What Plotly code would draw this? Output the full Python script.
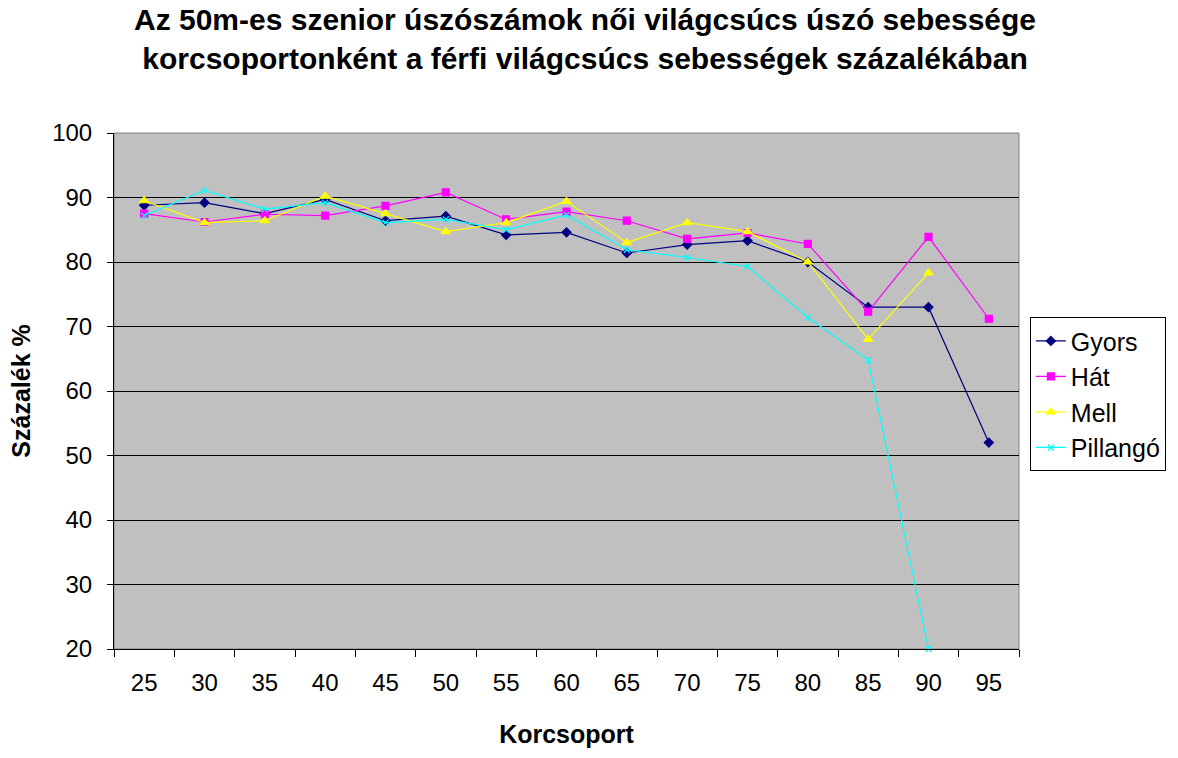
"""Women's 50m masters world-record speed as % of men's, by age group."""
import plotly.graph_objects as go

age_groups = ["25", "30", "35", "40", "45", "50", "55", "60", "65", "70", "75", "80", "85", "90", "95"]

gyors = [88.8, 89.2, 87.5, 89.7, 86.4, 87.1, 84.2, 84.6, 81.4, 82.7, 83.3, 80.0, 73.0, 73.0, 52.0]
hat = [87.5, 86.2, 87.4, 87.2, 88.7, 90.8, 86.6, 87.8, 86.4, 83.6, 84.5, 82.8, 72.3, 83.9, 71.2]
mell = [89.5, 86.1, 86.4, 90.2, 87.5, 84.7, 86.1, 89.4, 83.0, 86.1, 84.7, 80.0, 68.0, 78.3, None]
pillango = [87.2, 91.1, 88.2, 89.2, 86.1, 86.6, 85.0, 87.3, 81.9, 80.7, 79.3, 71.4, 64.8, 20.0, None]

FONT = "Arial, Liberation Sans, sans-serif"

series = [
    ("Gyors", gyors, "#000080", "diamond", 7),
    ("Hát", hat, "#FF00FF", "square", 7),
    ("Mell", mell, "#FFFF00", "triangle-up", 8),
    ("Pillangó", pillango, "#00FFFF", "x-thin", 6),
]

fig = go.Figure()
for i, (name, vals, color, symbol, size) in enumerate(series):
    fig.add_trace(go.Scatter(
        x=age_groups,
        y=vals,
        name=name,
        mode="lines+markers",
        line=dict(color=color, width=1.2),
        marker=dict(symbol=symbol, size=size, color=color,
                    line=dict(color=color, width=1.2)),
        legendgroup=str(i),
        cliponaxis=False,
    ))

fig.update_xaxes(
    type="category",
    tickson="boundaries",
    ticks="outside",
    ticklen=7,
    tickcolor="black",
    ticklabelstandoff=12,
    showline=True,
    linecolor="black",
    linewidth=1,
    showgrid=False,
    tickfont=dict(family=FONT, size=24, color="black"),
    title=dict(text="<b>Korcsoport</b>", font=dict(family=FONT, size=25, color="black"),
               standoff=30),
    range=[-0.5, 14.5],
)
fig.update_yaxes(
    range=[20, 100],
    dtick=10,
    ticks="outside",
    ticklen=6,
    tickcolor="black",
    ticklabelstandoff=10,
    showline=True,
    linecolor="black",
    linewidth=1,
    showgrid=True,
    gridcolor="black",
    gridwidth=1,
    zeroline=False,
    tickfont=dict(family=FONT, size=24, color="black"),
    title=dict(text="<b>Százalék %</b>", font=dict(family=FONT, size=25, color="black"),
               standoff=14),
)

# grey plot-area frame on the top and right
fig.add_shape(type="rect", xref="paper", yref="paper", x0=0, x1=1, y0=0, y1=1,
              line=dict(color="#808080", width=1), layer="below")

fig.add_annotation(
    text="<b>Az 50m-es szenior úszószámok női világcsúcs úszó sebessége<br>"
         "korcsoportonként a férfi világcsúcs sebességek százalékában</b>",
    xref="paper", yref="paper", x=0.52, y=1.255, xanchor="center", yanchor="top",
    showarrow=False, align="center",
    font=dict(family=FONT, size=30, color="black"),
)

fig.update_layout(
    width=1178,
    height=758,
    paper_bgcolor="white",
    plot_bgcolor="#C0C0C0",
    margin=dict(l=114, r=156, t=133, b=109),
    legend=dict(
        x=1.012, xanchor="left", y=0.643, yanchor="top",
        bgcolor="white",
        bordercolor="black",
        borderwidth=1,
        font=dict(family=FONT, size=25, color="black"),
        traceorder="grouped",
        tracegroupgap=0,
        itemwidth=30,
    ),
)

fig.write_html("out.html", config={"displayModeBar": False},
               post_script="document.body.style.margin = '0';")
